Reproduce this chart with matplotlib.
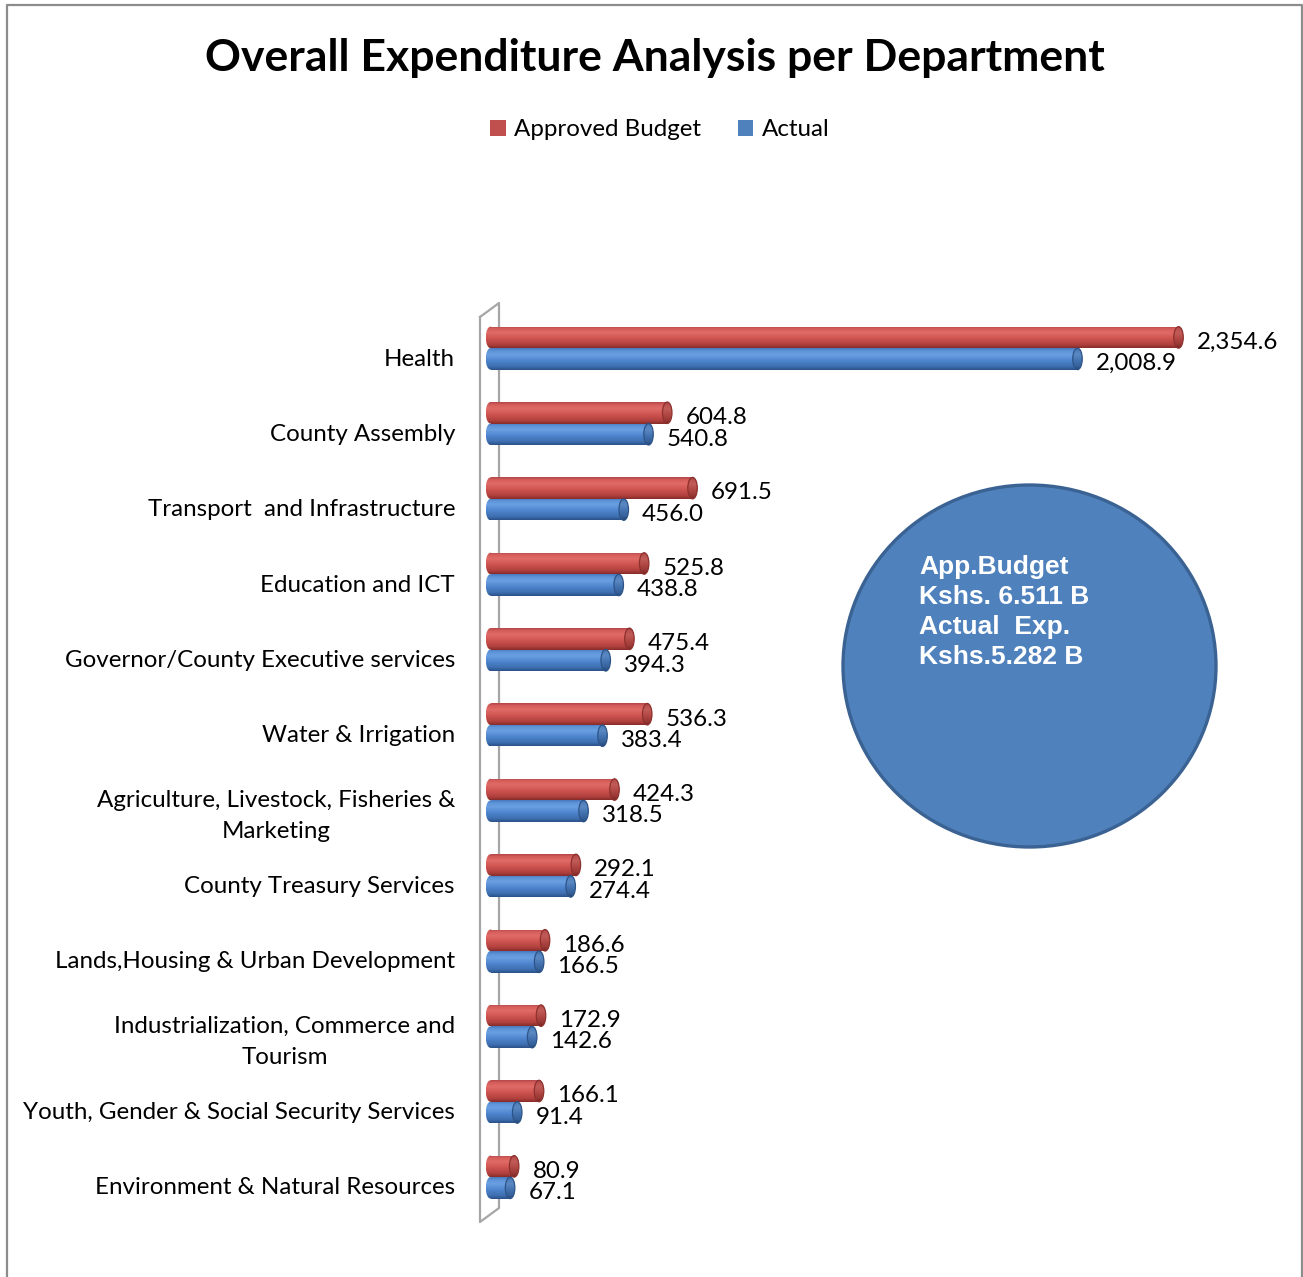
import numpy as np
import matplotlib
matplotlib.use("Agg")
import matplotlib.pyplot as plt
from matplotlib.patches import Ellipse, Patch
from matplotlib.lines import Line2D
from matplotlib.colors import to_rgb

# ---- data (KShs millions) ----
departments = [
    "Health",
    "County Assembly",
    "Transport  and Infrastructure",
    "Education and ICT",
    "Governor/County Executive services",
    "Water & Irrigation",
    "Agriculture, Livestock, Fisheries &\nMarketing",
    "County Treasury Services",
    "Lands,Housing & Urban Development",
    "Industrialization, Commerce and\nTourism",
    "Youth, Gender & Social Security Services",
    "Environment & Natural Resources",
]
approved = [2354.6, 604.8, 691.5, 525.8, 475.4, 536.3, 424.3, 292.1, 186.6, 172.9, 166.1, 80.9]
actual = [2008.9, 540.8, 456.0, 438.8, 394.3, 383.4, 318.5, 274.4, 166.5, 142.6, 91.4, 67.1]
series_names = ["Approved Budget", "Actual"]
title = "Overall Expenditure Analysis per Department"
summary_lines = ["App.Budget", "Kshs. 6.511 B", "Actual  Exp.", "Kshs.5.282 B"]

# ---- layout (pixels) ----
W, H, DPI = 1303, 1277, 100
ZERO_PX = 490.5
AX_L, AX_R = 470.0, 1290.0
AX_T, AX_B = 290.0, 1240.0
LABEL_RIGHT_PX = 455.0
PX_PER_UNIT = 0.2922
ROW0_PX, ROW_STEP = 357.0, 75.36
BAR_H = 0.285
RED_OFF, BLUE_OFF = -0.26, 0.025
CAP_PX = 9.5

LABEL_FONT = ["Lato", "DejaVu Sans"]
FS = 17.4

RED = "#C0504D"
BLUE = "#4F81BD"
red_stops = [(0.0, "#B4474A"), (0.12, "#D65E5B"), (0.3, "#E06B67"),
             (0.55, "#D05551"), (0.85, "#B0403D"), (1.0, "#862B29")]
blue_stops = [(0.0, "#4878BC"), (0.12, "#5D93D8"), (0.3, "#6A9FE2"),
              (0.55, "#5087CF"), (0.85, "#3D6EB0"), (1.0, "#2A5087")]


def gradient(stops, n=64, scale=1.0):
    pos = np.array([s[0] for s in stops])
    cols = np.array([to_rgb(s[1]) for s in stops])
    t = np.linspace(0, 1, n)
    rgb = np.stack([np.interp(t, pos, cols[:, k]) for k in range(3)], axis=1) * scale
    rgba = np.concatenate([np.clip(rgb, 0, 1), np.ones((n, 1))], axis=1)
    return rgba[:, None, :]


fig = plt.figure(figsize=(W / DPI, H / DPI), dpi=DPI)
fig.patch.set_facecolor("white")

ax = fig.add_axes([AX_L / W, 1 - AX_B / H, (AX_R - AX_L) / W, (AX_B - AX_T) / H])
ax.patch.set_visible(False)

xmin = -(ZERO_PX - AX_L) / PX_PER_UNIT
xmax = (AX_R - ZERO_PX) / PX_PER_UNIT
y_top = (AX_T - ROW0_PX) / ROW_STEP
y_bot = (AX_B - ROW0_PX) / ROW_STEP
cap_w = CAP_PX / PX_PER_UNIT

pos = np.arange(len(departments))


def draw_cylinders(values, offset, stops, edge):
    bars = ax.barh(pos + offset, values, height=BAR_H, color="none", edgecolor="none", zorder=3)
    g = gradient(stops)
    gcap = gradient(stops, scale=0.86)
    for rect, v in zip(bars, values):
        y0 = rect.get_y()
        h = rect.get_height()
        yc = y0 + h / 2
        # rounded left end
        le = Ellipse((0, yc), cap_w, h, facecolor="none", edgecolor="none")
        ax.add_patch(le)
        im = ax.imshow(g, extent=(-cap_w / 2, cap_w / 2, y0 + h, y0), origin="upper",
                       aspect="auto", zorder=3, interpolation="bilinear")
        im.set_clip_path(le)
        # body
        im = ax.imshow(g, extent=(0, v, y0 + h, y0), origin="upper",
                       aspect="auto", zorder=3.1, interpolation="bilinear")
        im.set_clip_path(rect)
        # right cap
        re = Ellipse((v, yc), cap_w, h, facecolor="none", edgecolor="none", zorder=3.2)
        ax.add_patch(re)
        im = ax.imshow(gcap, extent=(v - cap_w / 2, v + cap_w / 2, y0 + h, y0), origin="upper",
                       aspect="auto", zorder=3.2, interpolation="bilinear")
        im.set_clip_path(re)
        ax.add_patch(Ellipse((v, yc), cap_w, h, facecolor="none", edgecolor=edge,
                             linewidth=0.9, zorder=3.3))
        ax.annotate(f"{v:,.1f}", xy=(v, yc), xytext=(13.2, -3.5), textcoords="offset points",
                    ha="left", va="center", fontsize=FS, family=LABEL_FONT, color="black",
                    zorder=5)


draw_cylinders(approved, RED_OFF, red_stops, "#8E302D")
draw_cylinders(actual, BLUE_OFF, blue_stops, "#2D5488")

ax.set_xlim(xmin, xmax)
ax.set_ylim(y_bot, y_top)
ax.set_xticks([])
ax.set_yticks(pos)
ax.set_yticklabels(departments, family=LABEL_FONT, fontsize=FS, multialignment="center",
                   linespacing=1.6)
ax.tick_params(axis="y", length=0, pad=(AX_L - LABEL_RIGHT_PX) * 72 / DPI)
for s in ax.spines.values():
    s.set_visible(False)


def fx(px):
    return px / W


def fy(py):
    return 1 - py / H


# floor/wall outline behind the bars
wall_x = [480, 480, 499, 499, 480]
wall_y = [317, 1222, 1208, 303, 317]
fig.add_artist(Line2D([fx(v) for v in wall_x], [fy(v) for v in wall_y],
                      transform=fig.transFigure, color="#A6A6A6", linewidth=1.6, zorder=-1))

# outer chart border
fig.add_artist(Line2D([fx(7), fx(7), fx(1302), fx(1302)], [fy(1277), fy(5), fy(5), fy(1277)],
                      transform=fig.transFigure, color="#8C8C8C", linewidth=1.6))

# title
fig.text(fx(655), fy(58), title, ha="center", va="center", fontsize=32,
         fontweight="bold", family=LABEL_FONT)

# legend
handles = [Patch(facecolor=RED, edgecolor="none"), Patch(facecolor=BLUE, edgecolor="none")]
fig.legend(handles, series_names, loc="center", bbox_to_anchor=(fx(660), fy(130)), ncol=2,
           frameon=False, handlelength=0.65, handleheight=0.65, handletextpad=0.35,
           columnspacing=1.5, prop={"family": LABEL_FONT, "size": FS})

# summary bubble
fig.add_artist(Ellipse((fx(1029.5), fy(666)), 373 / W, 362 / H, transform=fig.transFigure,
                       facecolor="#4F81BD", edgecolor="#3A6292", linewidth=2.4))
fig.text(fx(919), fy(612), "\n".join(summary_lines), ha="left", va="center", color="white",
         fontsize=19, fontweight="bold", family=["Liberation Sans", "DejaVu Sans"],
         linespacing=1.30)

fig.savefig("out.png", dpi=DPI, facecolor="white")
